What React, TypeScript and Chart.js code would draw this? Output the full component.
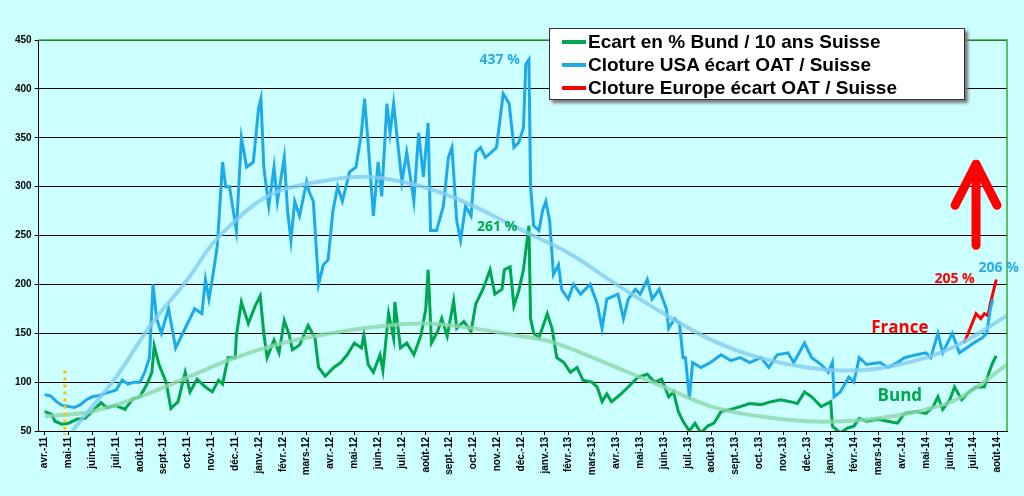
import React, { useEffect, useRef } from "react";
import { Chart, registerables } from "chart.js";
Chart.register(...registerables);

const monthLabels = ["avr.-11","mai-11","juin-11","juil.-11","août-11","sept.-11","oct.-11","nov.-11","déc.-11","janv.-12","févr.-12","mars-12","avr.-12","mai-12","juin-12","juil.-12","août-12","sept.-12","oct.-12","nov.-12","déc.-12","janv.-13","févr.-13","mars-13","avr.-13","mai-13","juin-13","juil.-13","août-13","sept.-13","oct.-13","nov.-13","déc.-13","janv.-14","févr.-14","mars-14","avr.-14","mai-14","juin-14","juil.-14","août-14"];

const usaX = [0,0.25,0.5,0.75,1,1.25,1.5,1.75,2,2.25,2.5,2.75,3,3.25,3.5,3.75,4,4.2,4.4,4.55,4.7,4.9,5.2,5.5,5.8,6,6.3,6.6,6.75,6.9,7.1,7.25,7.47,7.6,7.76,8.05,8.26,8.48,8.76,8.98,9.08,9.2,9.41,9.63,9.77,10.06,10.2,10.34,10.5,10.7,11,11.1,11.28,11.5,11.7,11.9,12.1,12.3,12.5,12.8,13.07,13.3,13.43,13.58,13.8,14,14.15,14.37,14.5,14.65,14.8,15,15.2,15.5,15.7,15.9,16.1,16.2,16.45,16.74,16.95,17.1,17.3,17.46,17.67,17.9,18.1,18.3,18.5,18.75,18.97,19.25,19.5,19.7,19.9,20.1,20.2,20.33,20.4,20.53,20.75,20.9,21.04,21.2,21.36,21.57,21.7,21.98,22.2,22.5,22.9,23.2,23.4,23.6,24.07,24.3,24.5,24.8,25,25.3,25.5,25.8,26.1,26.2,26.45,26.65,26.8,26.9,27.07,27.2,27.55,27.95,28.4,28.8,29.2,29.6,30.07,30.4,30.75,31.2,31.45,31.9,32.2,32.6,32.9,33.07,33.14,33.4,33.76,33.97,34.2,34.5,35.07,35.4,35.8,36.1,36.6,37,37.2,37.5,37.7,38.1,38.4,38.7,39,39.35,39.55,39.7,39.8];
const usaY = [87,86,80,76,75,74,77,82,85,86,88,90,92,102,98,100,100,110,125,200,165,150,175,135,150,160,175,170,205,185,215,240,325,300,300,255,350,320,325,380,390,320,280,320,285,330,275,245,285,270,305,295,285,200,220,225,275,300,285,315,320,355,390,345,270,325,290,385,355,385,350,305,335,285,355,310,365,255,255,280,330,340,265,245,280,270,335,340,330,335,340,395,385,340,345,360,425,430,300,260,255,275,285,265,210,220,195,185,200,190,200,180,155,185,190,165,185,195,190,205,185,195,175,155,165,160,125,125,83,120,115,120,128,122,125,120,125,115,128,130,120,140,125,118,110,120,85,90,105,100,125,118,120,115,120,125,128,130,125,150,130,150,130,135,140,145,150,175,185];

const europeX = [38.6,38.77,38.9,39.1,39.3,39.45,39.6,39.7,39.8,39.95];
const europeY = [140,150,158,170,165,170,168,180,190,205];

const bundX = [0,0.3,0.43,0.72,1,1.36,1.7,2,2.37,2.6,3,3.37,3.7,4,4.3,4.5,4.6,4.8,5.1,5.3,5.6,5.9,6.1,6.4,6.75,7.04,7.3,7.47,7.7,8,8.05,8.26,8.55,8.84,9.05,9.2,9.34,9.63,9.84,10.06,10.27,10.4,10.7,11.06,11.35,11.5,11.78,12.14,12.43,12.7,13,13.3,13.4,13.58,13.8,14.08,14.2,14.44,14.65,14.7,14.94,15.2,15.5,15.8,16,16.1,16.24,16.5,16.67,16.9,17.17,17.3,17.6,17.9,18.1,18.4,18.7,18.9,19.2,19.3,19.54,19.7,19.9,20.1,20.33,20.4,20.53,20.75,21.1,21.3,21.5,21.8,22.07,22.35,22.6,22.97,23.2,23.4,23.6,23.8,24.2,24.5,24.9,25.3,25.6,25.9,26.2,26.4,26.6,26.8,27.07,27.3,27.55,27.83,28.1,28.4,28.8,29.2,29.6,30.07,30.5,30.9,31.3,31.6,31.9,32.2,32.6,33,33.07,33.4,33.7,33.97,34.2,34.5,35,35.4,35.8,36.1,36.6,37,37.3,37.5,37.7,38,38.2,38.5,38.8,39.1,39.45,39.65,39.8,39.95];
const bundY = [70,67,60,57,58,62,63,70,79,74,76,72,83,85,98,110,137,118,100,73,80,110,90,103,95,90,102,98,125,125,148,182,160,178,188,150,125,143,130,163,148,133,138,158,145,115,106,115,120,128,140,135,148,118,110,128,112,170,145,182,135,140,128,148,175,215,140,152,165,147,183,155,162,152,180,195,215,190,195,215,218,178,193,215,260,165,150,145,170,155,125,120,110,115,102,100,95,80,88,80,88,95,105,108,100,103,85,90,70,60,50,58,48,55,58,70,72,75,78,77,80,82,80,78,90,85,75,80,55,48,53,55,63,60,62,60,58,68,70,68,75,85,72,82,95,82,90,95,95,110,120,127];

const trendUsaX = [1.15,2,3,4.5,6,7,8,9,10,12,13.5,15,16.5,18,19.5,20.5,22,24,26,28,30,32,33.5,35,37,38.5,40.4];
const trendUsaY = [50,75,105,160,205,240,265,285,297,307,310,305,295,280,262,250,232,200,170,143,125,115,112,114,125,140,168];
const trendBundX = [0,2,4,6,8,10,12,14,16,18,20,21,22,24,26,28,30,32,33.5,35,37,38.5,40.4];
const trendBundY = [65,70,85,105,125,140,150,157,160,155,147,143,135,115,95,75,65,60,60,63,72,85,118];

const yTicks = [50,100,150,200,250,300,350,400,450];

const pts = (xs: number[], ys: number[]) => xs.map((x, i) => ({ x, y: ys[i] }));

const overlay = {
  id: "overlay",
  afterDraw(chart: any) {
    const { ctx, chartArea: a, scales } = chart;
    const xs = scales.x, ys = scales.y;
    ctx.save();
    ctx.strokeStyle = "#33aa33"; ctx.lineWidth = 1.5;
    ctx.beginPath(); ctx.moveTo(a.left, a.top); ctx.lineTo(a.right, a.top); ctx.lineTo(a.right, a.bottom); ctx.stroke();
    ctx.fillStyle = "#000"; ctx.font = 'bold 10px Arial, "Liberation Sans", sans-serif';
    ctx.textAlign = "right"; ctx.textBaseline = "middle";
    monthLabels.forEach((l, i) => {
      const px = xs.getPixelForValue(i);
      ctx.save(); ctx.translate(px, a.bottom + 6); ctx.rotate(-Math.PI / 2); ctx.fillText(l, 0, 0); ctx.restore();
    });
    ctx.strokeStyle = "#ffc000"; ctx.lineWidth = 3; ctx.setLineDash([3, 4]);
    ctx.beginPath(); ctx.moveTo(xs.getPixelForValue(0.85), ys.getPixelForValue(112)); ctx.lineTo(xs.getPixelForValue(0.85), ys.getPixelForValue(46)); ctx.stroke();
    ctx.setLineDash([]);
    const txt = (t: string, x: number, y: number, c: string, size: number) => {
      ctx.fillStyle = c; ctx.font = `bold ${size}px "Open Sans", Arial, sans-serif`;
      ctx.textAlign = "center"; ctx.textBaseline = "middle";
      ctx.fillText(t, xs.getPixelForValue(x), ys.getPixelForValue(y));
    };
    txt("437 %", 19.1, 430, "#29abe2", 14);
    txt("261 %", 19.0, 259, "#00a650", 14);
    txt("205 %", 38.2, 205, "#ff0000", 14);
    txt("206 %", 40.05, 217, "#29abe2", 14);
    txt("France", 35.9, 155, "#ff0000", 17);
    txt("Bund", 35.9, 86, "#00a650", 17);
    const ax = xs.getPixelForValue(39.1);
    const yb = ys.getPixelForValue(240), yt = ys.getPixelForValue(327);
    ctx.strokeStyle = "#ff0000"; ctx.lineWidth = 9; ctx.lineCap = "round"; ctx.lineJoin = "round";
    ctx.beginPath(); ctx.moveTo(ax, yb); ctx.lineTo(ax, yt + 4); ctx.stroke();
    ctx.beginPath(); ctx.moveTo(ax - 21, yt + 45); ctx.lineTo(ax, yt + 4); ctx.lineTo(ax + 21, yt + 45); ctx.stroke();
    ctx.restore();
  },
};

export default function App() {
  const ref = useRef<HTMLCanvasElement>(null);
  useEffect(() => {
    const chart = new Chart(ref.current!, {
      type: "line",
      data: {
        datasets: [
          { label: "trendUsa", data: pts(trendUsaX, trendUsaY), borderColor: "rgba(130,205,240,0.8)", borderWidth: 4, pointRadius: 0, tension: 0.4 },
          { label: "trendBund", data: pts(trendBundX, trendBundY), borderColor: "rgba(140,215,170,0.8)", borderWidth: 4, pointRadius: 0, tension: 0.4 },
          { label: "Ecart en % Bund / 10 ans Suisse", data: pts(bundX, bundY), borderColor: "#00a650", borderWidth: 3, pointRadius: 0 },
          { label: "Cloture USA écart OAT / Suisse", data: pts(usaX, usaY), borderColor: "#1eaae7", borderWidth: 3, pointRadius: 0 },
          { label: "Cloture Europe écart OAT / Suisse", data: pts(europeX, europeY), borderColor: "#ff0000", borderWidth: 3, pointRadius: 0 },
        ],
      },
      options: {
        animation: false,
        responsive: false,
        layout: { padding: { left: 12, top: 40, right: 17, bottom: 61 } },
        plugins: { legend: { display: false }, tooltip: { enabled: false } },
        scales: {
          x: {
            type: "linear", min: -0.25, max: 40.4,
            afterBuildTicks: (s: any) => { s.ticks = monthLabels.map((_, i) => ({ value: i })); },
            ticks: { display: false },
            grid: { drawOnChartArea: false, tickLength: 4, color: "#000" },
            border: { color: "#000" },
          },
          y: {
            min: 50, max: 450,
            afterBuildTicks: (s: any) => { s.ticks = yTicks.map((v) => ({ value: v })); },
            ticks: { color: "#000", font: { size: 10, weight: "bold", family: "Arial" } },
            grid: { color: "#000", tickLength: 4 },
            border: { color: "#000" },
          },
        },
      },
      plugins: [overlay],
    });
    return () => chart.destroy();
  }, []);
  const legendRow = (c: string, t: string) => (
    <div style={{ display: "flex", alignItems: "center", height: 23 }}>
      <span style={{ display: "inline-block", width: 24, height: 4, background: c, marginRight: 2 }} />
      <span>{t}</span>
    </div>
  );
  return (
    <div style={{ position: "fixed", left: 0, top: 0, width: 1024, height: 496, background: "#ccffff" }}>
      <canvas ref={ref} width={1024} height={496} />
      <div style={{ position: "absolute", left: 549, top: 28, width: 416, height: 72, background: "#fff", border: "1.5px solid #333", boxShadow: "3px 3px 3px #777", fontFamily: "Arial, 'Liberation Sans', sans-serif", fontWeight: "bold", fontSize: 19, paddingLeft: 12, paddingTop: 1, boxSizing: "border-box" }}>
        {legendRow("#00a650", "Ecart en % Bund / 10 ans Suisse")}
        {legendRow("#1eaae7", "Cloture USA écart OAT / Suisse")}
        {legendRow("#ff0000", "Cloture Europe écart OAT / Suisse")}
      </div>
    </div>
  );
}
